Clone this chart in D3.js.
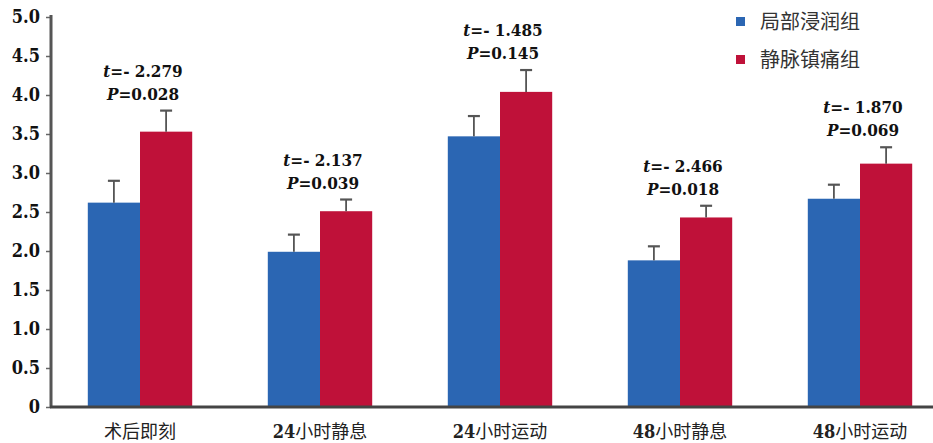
<!DOCTYPE html>
<html><head><meta charset="utf-8">
<script src="https://cdn.jsdelivr.net/npm/d3@7/dist/d3.min.js"></script>
<style>body{margin:0;background:#fff}svg{display:block}</style>
</head><body>
<svg id="c" width="933" height="443"></svg>
<script>
const categories = [["", "术后即刻"], ["24", "小时静息"], ["24", "小时运动"], ["48", "小时静息"], ["48", "小时运动"]];
const seriesNames = ["局部浸润组", "静脉镇痛组"];
const localMean = [2.62, 1.99, 3.47, 1.88, 2.67];
const localErr = [0.28, 0.22, 0.26, 0.18, 0.18];
const ivMean = [3.53, 2.51, 4.04, 2.43, 3.12];
const ivErr = [0.27, 0.15, 0.28, 0.15, 0.21];
const tVals = ["- 2.279", "- 2.137", "- 1.485", "- 2.466", "- 1.870"];
const pVals = ["0.028", "0.039", "0.145", "0.018", "0.069"];
const yTicks = [0, 0.5, 1, 1.5, 2, 2.5, 3, 3.5, 4, 4.5, 5];
const colors = ["#2b66b3", "#bf1139"];

const SERIF = '"DejaVu Serif Condensed", "DejaVu Serif", serif';
const CJK = '"Noto Sans CJK SC", "Noto Sans", sans-serif';

const svg = d3.select("#c");

const idx = d3.range(categories.length);
const x0 = d3.scaleBand().domain(idx).range([50, 950]).paddingInner(0.42).paddingOuter(0.21);
const x1 = d3.scaleBand().domain([0, 1]).range([0, x0.bandwidth()]);
const y = d3.scaleLinear().domain([0, 5]).range([407, 17]);

const data = idx.map(i => ({i, vals: [
  {s: 0, m: localMean[i], e: localErr[i]},
  {s: 1, m: ivMean[i], e: ivErr[i]}
]}));

const g = svg.append("g");
const groups = g.selectAll("g.grp").data(data).join("g")
  .attr("transform", d => `translate(${x0(d.i)},0)`);

groups.selectAll("rect").data(d => d.vals).join("rect")
  .attr("x", d => x1(d.s)).attr("width", x1.bandwidth())
  .attr("y", d => y(d.m)).attr("height", d => y(0) - y(d.m))
  .attr("fill", d => colors[d.s]);

groups.selectAll("g.err").data(d => d.vals).join("g").each(function(d) {
  const cx = x1(d.s) + x1.bandwidth() / 2;
  const s = d3.select(this);
  s.append("line").attr("x1", cx).attr("x2", cx).attr("y1", y(d.m)).attr("y2", y(d.m + d.e))
    .attr("stroke", "#555").attr("stroke-width", 1.8);
  s.append("line").attr("x1", cx - 6).attr("x2", cx + 6).attr("y1", y(d.m + d.e)).attr("y2", y(d.m + d.e))
    .attr("stroke", "#555").attr("stroke-width", 2.2);
});

groups.each(function(d) {
  const top = y(d.vals[1].m + d.vals[1].e);
  const cx = x0.bandwidth() / 2 + 3;
  const s = d3.select(this);
  [["t", "=" + tVals[d.i], top - 34], ["P", "=" + pVals[d.i], top - 11]].forEach(([a, b, yy]) => {
    const t = s.append("text").attr("x", cx).attr("y", yy).attr("text-anchor", "middle")
      .style("font-family", SERIF).style("font-stretch", "condensed").style("font-weight", "bold")
      .style("font-size", "17px").style("fill", "#111");
    t.append("tspan").style("font-style", "italic").text(a);
    t.append("tspan").text(b);
  });
});

const yAxis = d3.axisLeft(y).tickValues(yTicks).tickSize(5).tickPadding(6)
  .tickFormat(v => v === 0 ? "0" : d3.format(".1f")(v));
const ya = svg.append("g").attr("transform", "translate(51,0)").call(yAxis);
ya.select(".domain").remove();
ya.selectAll(".tick line").attr("stroke", "#666").attr("stroke-width", 1.5);
ya.selectAll(".tick text").style("font-family", SERIF).style("font-stretch", "condensed").style("font-weight", "bold")
  .style("font-size", "18px").style("fill", "#111");
svg.append("line").attr("x1", 51).attr("x2", 51).attr("y1", 15).attr("y2", 408)
  .attr("stroke", "#555").attr("stroke-width", 3);
svg.append("line").attr("x1", 50).attr("x2", 933).attr("y1", y(0)).attr("y2", y(0))
  .attr("stroke", "#444").attr("stroke-width", 3);

const xl = svg.append("g");
idx.forEach(i => {
  const t = xl.append("text").attr("x", x0(i) + x0.bandwidth() / 2).attr("y", 438)
    .attr("text-anchor", "middle").style("font-size", "18px").style("fill", "#222");
  if (categories[i][0]) t.append("tspan").style("font-family", SERIF).style("font-stretch", "condensed")
    .style("font-weight", "bold").text(categories[i][0]);
  t.append("tspan").style("font-family", CJK).text(categories[i][1]);
});

const lg = svg.append("g").attr("transform", "translate(736,17)");
seriesNames.forEach((n, i) => {
  lg.append("rect").attr("x", 0).attr("y", i * 38).attr("width", 9).attr("height", 9).attr("fill", colors[i]);
  lg.append("text").attr("x", 24).attr("y", i * 38 + 5).attr("dy", "0.35em")
    .style("font-family", CJK).style("font-size", "20px").style("fill", "#333").text(n);
});
</script>
</body></html>
